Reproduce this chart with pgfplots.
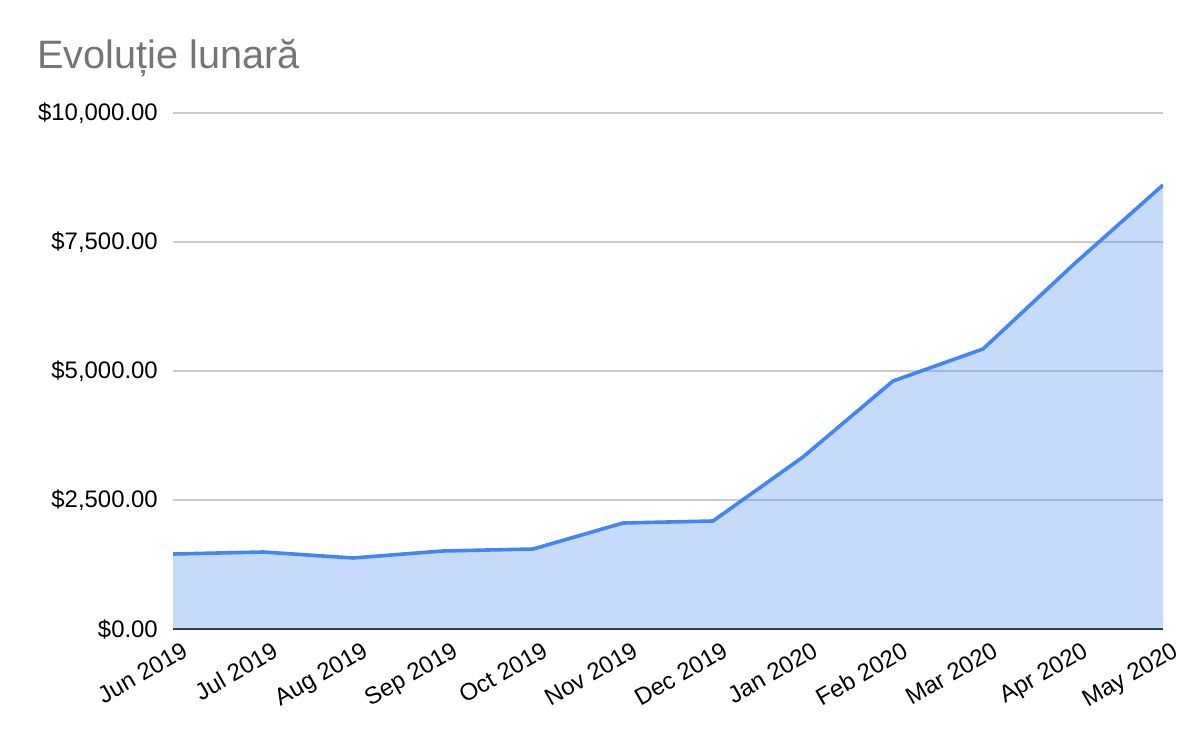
\documentclass[border=0pt]{standalone}
\usepackage{pgfplots}
\pgfplotsset{compat=1.18}
\usepackage{fontspec}
\setmainfont{Liberation Sans}
\definecolor{lineblue}{HTML}{4285F4}
\definecolor{gridgray}{HTML}{CCCCCC}
\definecolor{titlegray}{HTML}{757575}
\definecolor{axisdark}{HTML}{333333}
\pgfplotstableread{
x y
0 1453
1 1492
2 1376
3 1512
4 1550
5 2054
6 2093
7 3333
8 4806
9 5426
10 7054
11 8605
}\datatable
\begin{document}
\begin{tikzpicture}
\useasboundingbox (0,0) rectangle (1200bp,742bp);
\node[anchor=base west, text=titlegray, font=\fontsize{39.8}{44}\selectfont, inner sep=0] at (37bp,673bp) {Evoluție lunară};
\begin{axis}[
  at={(173bp,113bp)}, anchor=south west,
  scale only axis, width=990bp, height=516bp,
  xmin=0, xmax=11, ymin=0, ymax=10000,
  scaled y ticks=false,
  axis lines*=left,
  y axis line style={draw=none},
  x axis line style={draw=axisdark, line width=2bp},
  major tick length=0,
  ytick={0,2500,5000,7500,10000},
  yticklabels={{\$0.00},{\$2,500.00},{\$5,000.00},{\$7,500.00},{\$10,000.00}},
  xtick={0,...,11},
  xticklabels={Jun 2019,Jul 2019,Aug 2019,Sep 2019,Oct 2019,Nov 2019,Dec 2019,Jan 2020,Feb 2020,Mar 2020,Apr 2020,May 2020},
  ymajorgrids,
  grid style={gridgray, line width=1.3bp},
  yticklabel style={font=\fontsize{24}{27}\selectfont, anchor=east, inner sep=0pt, xshift=-15bp},
  xticklabel style={font=\fontsize{24}{27}\selectfont, rotate=30, anchor=north east, inner sep=0pt, xshift=1bp, yshift=-14bp},
]
\addplot[draw=none, fill=lineblue, fill opacity=0.3] table[x=x,y=y] {\datatable} \closedcycle;
\addplot[draw=lineblue, line width=3.6bp, line join=round] table[x=x,y=y] {\datatable};
\end{axis}
\end{tikzpicture}
\end{document}
